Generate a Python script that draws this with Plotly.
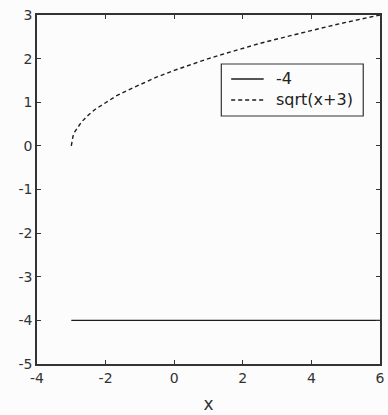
import plotly.graph_objects as go

# horizontal line y = -4
line_x = [-3, 6]
line_y = [-4, -4]

# curve sqrt(x+3), values
curve_x = [-3.0, -2.98, -2.95, -2.9, -2.8, -2.7, -2.6, -2.5, -2.3, -2.0, -1.7, -1.4, -1.0,
           -0.5, 0.0, 0.5, 1.0, 1.5, 2.0, 2.5, 3.0, 3.5, 4.0, 4.5, 5.0, 5.5, 6.0]
curve_y = [0.0, 0.14, 0.22, 0.32, 0.45, 0.55, 0.63, 0.71, 0.84, 1.0, 1.14, 1.26, 1.41,
           1.58, 1.73, 1.87, 2.0, 2.12, 2.24, 2.35, 2.45, 2.55, 2.65, 2.74, 2.83, 2.92, 3.0]

series_names = ["-4", "sqrt(x+3)"]

x_ticks = [-4, -2, 0, 2, 4, 6]
y_ticks = [-5, -4, -3, -2, -1, 0, 1, 2, 3]

FONT = "DejaVu Sans"
AX = "#333333"
LC = "#1e1e1e"
DASH = "4px,3px"

W, H = 388, 415
ML, MR, MT, MB = 37, 3, 15, 51
PW, PH = W - ML - MR, H - MT - MB


def px(xp):
    return (xp - ML) / PW


def py(yp):
    return (H - MB - yp) / PH


fig = go.Figure()
fig.add_trace(go.Scatter(x=line_x, y=line_y, mode="lines", name=series_names[0],
                         line=dict(color=LC, width=1.4), showlegend=False))
fig.add_trace(go.Scatter(x=curve_x, y=curve_y, mode="lines", name=series_names[1],
                         line=dict(color=LC, width=1.4, dash=DASH), showlegend=False))

axis_common = dict(showgrid=False, zeroline=False, showline=True, linecolor=AX,
                   linewidth=1.6, mirror="ticks", ticks="inside", ticklen=4,
                   tickcolor=AX, tickwidth=1.2,
                   tickfont=dict(family=FONT, size=14, color="#333333"))

# legend box drawn as shapes + annotations
shapes = [dict(type="rect", xref="paper", yref="paper",
               x0=px(224), x1=px(368), y0=py(116), y1=py(64),
               line=dict(color="#333333", width=1.2), fillcolor="#fcfcfc", layer="above")]
annotations = []
rows_y = [79, 100]
dashes = ["solid", DASH]
for name, ry, d in zip(series_names, rows_y, dashes):
    shapes.append(dict(type="line", xref="paper", yref="paper",
                       x0=px(234), x1=px(267), y0=py(ry), y1=py(ry),
                       line=dict(color=LC, width=1.4, dash=d), layer="above"))
    annotations.append(dict(xref="paper", yref="paper", x=px(277), y=py(ry),
                            xanchor="left", yanchor="middle", text=name, showarrow=False,
                            font=dict(family=FONT, size=16, color="#222222")))

fig.update_layout(
    width=W, height=H,
    margin=dict(l=ML, r=MR, t=MT, b=MB),
    paper_bgcolor="#fcfcfc", plot_bgcolor="#fcfcfc",
    font=dict(family=FONT, color="#333333"),
    xaxis=dict(range=[-4, 6], tickvals=x_ticks, ticktext=[str(v) for v in x_ticks],
               title=dict(text="x", font=dict(family=FONT, size=17, color="#333333"), standoff=14),
               **axis_common),
    yaxis=dict(range=[-5, 3], tickvals=y_ticks, ticktext=[str(v) for v in y_ticks],
               **axis_common),
    shapes=shapes,
    annotations=annotations,
    showlegend=False,
)

fig.write_html("out.html")
